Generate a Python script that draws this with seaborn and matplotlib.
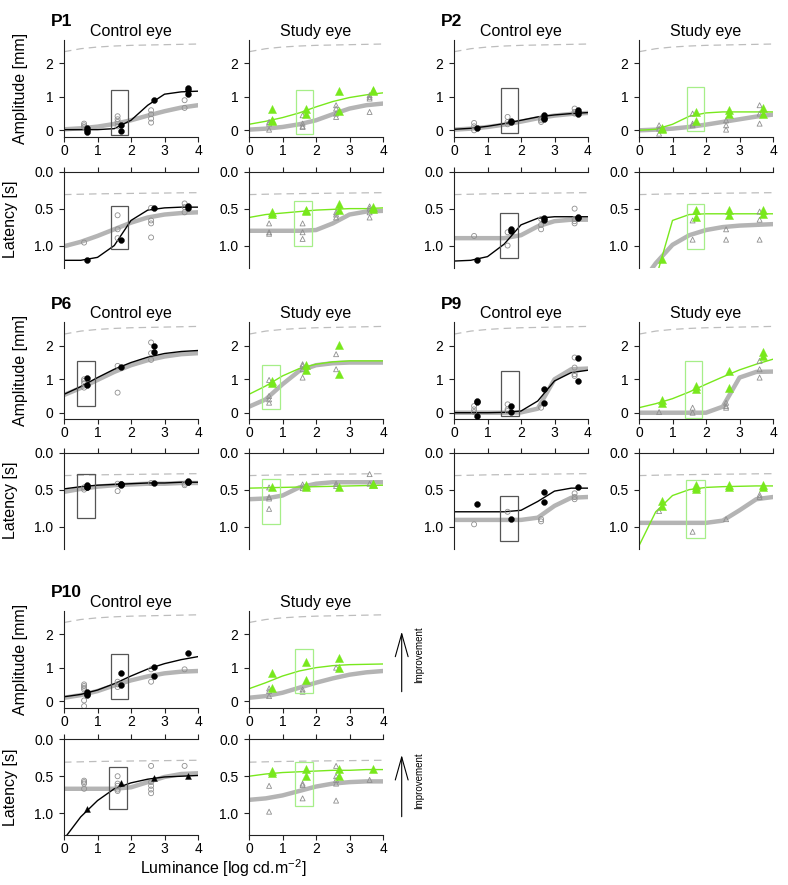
import matplotlib
matplotlib.use("Agg")
import matplotlib.pyplot as plt
from matplotlib.patches import Rectangle, FancyArrowPatch
import seaborn as sns

# luminance grid for the fitted curves, and where the dots sit
LUM_FIT = [0, 0.5, 1, 1.5, 2, 2.5, 3, 3.5, 4]
LUM_PRE = [0.6, 1.6, 2.6, 3.6]
LUM_POST = [0.7, 1.7, 2.7, 3.7]

# normal reference (dashed)
NORM_AMP = [2.35, 2.44, 2.49, 2.52, 2.54, 2.55, 2.56, 2.57, 2.58]
NORM_LAT = [0.31, 0.305, 0.30, 0.297, 0.294, 0.291, 0.289, 0.286, 0.284]

# ---- P1
p1_ctrl_amp_fit = [0.02, 0.02, 0.02, 0.05, 0.3, 0.75, 1.08, 1.15, 1.17]
p1_ctrl_amp_base = [0.03, 0.06, 0.11, 0.19, 0.3, 0.44, 0.57, 0.68, 0.75]
p1_ctrl_amp_post = [[0.07, 0.0, -0.05], [0.15, -0.03], [0.92], [1.27, 1.2, 1.1]]
p1_ctrl_amp_pre = [[0.2, 0.15, 0.1], [0.42, 0.33, 0.25, 0.12], [0.6, 0.48, 0.35, 0.23], [0.9, 0.67]]
p1_ctrl_amp_box = [1.4, 1.92, -0.15, 1.2]

p1_study_amp_fit = [0.18, 0.27, 0.38, 0.52, 0.7, 0.86, 0.98, 1.06, 1.12]
p1_study_amp_base = [0.02, 0.05, 0.1, 0.18, 0.3, 0.48, 0.65, 0.75, 0.8]
p1_study_amp_post = [[0.65, 0.3, 0.28], [0.65, 0.5], [1.17, 0.57], [1.2, 1.18]]
p1_study_amp_pre = [[0.25, 0.2, 0.02], [0.45, 0.2, 0.12, 0.1], [0.75, 0.65, 0.5, 0.4], [1.05, 1.0, 0.95, 0.55]]
p1_study_amp_box = [1.4, 1.92, -0.1, 1.22]

p1_ctrl_lat_fit = [1.2, 1.2, 1.16, 1.0, 0.66, 0.52, 0.49, 0.48, 0.48]
p1_ctrl_lat_base = [1.01, 0.95, 0.87, 0.78, 0.69, 0.62, 0.58, 0.56, 0.55]
p1_ctrl_lat_post = [[1.2], [0.92], [0.49], [0.46, 0.49]]
p1_ctrl_lat_pre = [[0.96], [0.59, 0.78, 0.9], [0.49, 0.66, 0.7, 0.89], [0.43, 0.48, 0.55]]
p1_ctrl_lat_box = [1.4, 1.9, 0.46, 1.05]

p1_study_lat_fit = [0.62, 0.58, 0.56, 0.54, 0.52, 0.51, 0.5, 0.5, 0.49]
p1_study_lat_base = [0.8, 0.8, 0.8, 0.8, 0.79, 0.7, 0.58, 0.54, 0.53]
p1_study_lat_post = [[0.55, 0.57], [0.53, 0.52], [0.44, 0.52], [0.48, 0.5]]
p1_study_lat_pre = [[0.7, 0.82, 0.84], [0.7, 0.82, 0.91], [0.55, 0.58, 0.62], [0.47, 0.5, 0.55, 0.62]]
p1_study_lat_box = [1.34, 1.89, 0.4, 1.01]

# ---- P2
p2_ctrl_amp_fit = [0.03, 0.06, 0.12, 0.2, 0.3, 0.4, 0.46, 0.5, 0.53]
p2_ctrl_amp_base = [0.02, 0.05, 0.1, 0.17, 0.26, 0.36, 0.44, 0.49, 0.52]
p2_ctrl_amp_post = [[0.07], [0.27, 0.25], [0.45, 0.38, 0.35], [0.62, 0.55, 0.5]]
p2_ctrl_amp_pre = [[0.22, 0.12, 0.0], [0.4, 0.25, 0.18], [0.35, 0.3, 0.25], [0.65, 0.55, 0.5]]
p2_ctrl_amp_box = [1.4, 1.92, -0.07, 1.25]

p2_study_amp_fit = [0.0, 0.03, 0.18, 0.42, 0.52, 0.55, 0.55, 0.55, 0.55]
p2_study_amp_base = [0.0, 0.02, 0.05, 0.1, 0.17, 0.25, 0.33, 0.41, 0.47]
p2_study_amp_post = [[0.08, 0.05], [0.55, 0.28], [0.6, 0.5], [0.68, 0.48]]
p2_study_amp_pre = [[0.15, 0.05, -0.1], [0.5, 0.2, 0.15], [0.3, 0.15, 0.02], [0.75, 0.5, 0.2]]
p2_study_amp_box = [1.42, 1.95, -0.03, 1.3]

p2_ctrl_lat_fit = [1.21, 1.2, 1.15, 0.98, 0.72, 0.63, 0.61, 0.61, 0.61]
p2_ctrl_lat_base = [0.9, 0.9, 0.9, 0.9, 0.86, 0.74, 0.67, 0.65, 0.65]
p2_ctrl_lat_post = [[1.2], [0.78, 0.8], [0.63, 0.66], [0.61, 0.63]]
p2_ctrl_lat_pre = [[0.87], [0.82, 1.0], [0.64, 0.72, 0.78], [0.5, 0.64, 0.67, 0.7]]
p2_ctrl_lat_box = [1.38, 1.92, 0.56, 1.17]

p2_study_lat_fit = [2.6, 1.45, 0.66, 0.58, 0.57, 0.57, 0.57, 0.57, 0.57]
p2_study_lat_base = [1.55, 1.24, 0.99, 0.86, 0.79, 0.75, 0.73, 0.72, 0.71]
p2_study_lat_post = [[1.18], [0.52, 0.61], [0.52, 0.58], [0.52, 0.57]]
p2_study_lat_pre = [[], [0.66, 0.92], [0.78, 0.92], [0.54, 0.65, 0.92]]
p2_study_lat_box = [1.42, 1.95, 0.44, 1.04]

# ---- P6
p6_ctrl_amp_fit = [0.55, 0.78, 1.05, 1.3, 1.5, 1.66, 1.77, 1.83, 1.86]
p6_ctrl_amp_base = [0.53, 0.74, 0.98, 1.22, 1.42, 1.57, 1.68, 1.75, 1.78]
p6_ctrl_amp_post = [[1.05, 0.82], [1.38], [1.98, 1.83], []]
p6_ctrl_amp_pre = [[1.0, 0.95, 0.88, 0.75], [1.4, 0.6], [2.1, 1.78, 1.58], []]
p6_ctrl_amp_box = [0.38, 0.92, 0.2, 1.54]

p6_study_amp_fit = [0.55, 0.8, 1.1, 1.32, 1.45, 1.52, 1.55, 1.55, 1.55]
p6_study_amp_base = [0.18, 0.4, 0.85, 1.25, 1.42, 1.48, 1.5, 1.5, 1.5]
p6_study_amp_post = [[0.95, 0.88], [1.42, 1.28], [2.02, 1.15], []]
p6_study_amp_pre = [[0.98, 0.5, 0.4, 0.3], [1.45, 1.4, 1.3, 1.05], [1.75, 1.3], []]
p6_study_amp_box = [0.4, 0.92, 0.1, 1.44]

p6_ctrl_lat_fit = [0.49, 0.46, 0.44, 0.43, 0.42, 0.41, 0.41, 0.4, 0.4]
p6_ctrl_lat_base = [0.53, 0.49, 0.46, 0.44, 0.43, 0.42, 0.42, 0.41, 0.41]
p6_ctrl_lat_post = [[0.44, 0.46, 0.47], [0.42, 0.43, 0.44], [0.41], [0.38, 0.39, 0.4]]
p6_ctrl_lat_pre = [[0.47, 0.5], [0.42, 0.52], [0.41], [0.42, 0.44]]
p6_ctrl_lat_box = [0.38, 0.92, 0.29, 0.89]

p6_study_lat_fit = [0.48, 0.475, 0.47, 0.465, 0.46, 0.455, 0.45, 0.445, 0.44]
p6_study_lat_base = [0.63, 0.62, 0.58, 0.47, 0.42, 0.4, 0.4, 0.4, 0.4]
p6_study_lat_post = [[0.47], [0.44, 0.46], [0.46], [0.42, 0.43]]
p6_study_lat_pre = [[0.47, 0.6, 0.62, 0.76], [0.43, 0.48], [0.42, 0.45], [0.29, 0.42]]
p6_study_lat_box = [0.4, 0.93, 0.36, 0.96]

# ---- P9
p9_ctrl_amp_fit = [0.0, 0.0, 0.0, 0.01, 0.05, 0.35, 0.95, 1.2, 1.27]
p9_ctrl_amp_base = [0.0, 0.0, 0.0, 0.0, 0.01, 0.12, 1.0, 1.3, 1.32]
p9_ctrl_amp_post = [[0.35, 0.32, -0.1], [0.2, 0.01], [0.72, 0.28], [1.65, 0.95]]
p9_ctrl_amp_pre = [[0.2, 0.1, 0.02], [0.25, 0.1, 0.05], [0.15], [1.65, 1.35, 1.15, 1.1]]
p9_ctrl_amp_box = [1.4, 1.93, -0.11, 1.24]

p9_study_amp_fit = [0.15, 0.27, 0.42, 0.62, 0.85, 1.07, 1.28, 1.45, 1.6]
p9_study_amp_base = [0.0, 0.0, 0.0, 0.0, 0.0, 0.18, 1.05, 1.22, 1.23]
p9_study_amp_post = [[0.38, 0.3], [0.8, 0.72], [1.25, 0.75], [1.83, 1.7]]
p9_study_amp_pre = [[0.02], [0.15, 0.0], [0.3, 0.2, 0.15], [1.55, 1.3, 1.05]]
p9_study_amp_box = [1.37, 1.89, -0.15, 1.54]

p9_ctrl_lat_fit = [0.8, 0.8, 0.8, 0.8, 0.78, 0.66, 0.52, 0.48, 0.48]
p9_ctrl_lat_base = [0.91, 0.91, 0.91, 0.91, 0.91, 0.88, 0.72, 0.61, 0.6]
p9_ctrl_lat_post = [[0.7], [0.9], [0.53, 0.67], [0.47]]
p9_ctrl_lat_pre = [[0.97], [0.8], [0.9, 0.93], [0.55, 0.6, 0.63]]
p9_ctrl_lat_box = [1.38, 1.92, 0.59, 1.19]

p9_study_lat_fit = [1.26, 0.8, 0.58, 0.5, 0.47, 0.46, 0.455, 0.45, 0.45]
p9_study_lat_base = [0.95, 0.95, 0.95, 0.95, 0.95, 0.92, 0.78, 0.63, 0.6]
p9_study_lat_post = [[0.66, 0.72], [0.44, 0.47, 0.49], [0.44, 0.46], [0.44, 0.46]]
p9_study_lat_pre = [[0.79], [1.07], [0.9], [0.57, 0.6]]
p9_study_lat_box = [1.4, 1.96, 0.37, 1.15]

# ---- P10
p10_ctrl_amp_fit = [0.13, 0.2, 0.33, 0.52, 0.75, 0.96, 1.12, 1.24, 1.33]
p10_ctrl_amp_base = [0.1, 0.18, 0.3, 0.47, 0.62, 0.74, 0.83, 0.88, 0.9]
p10_ctrl_amp_post = [[0.28, 0.22, 0.18], [0.85, 0.47], [1.03, 0.75], [1.45]]
p10_ctrl_amp_pre = [[0.5, 0.45, 0.4, 0.35, 0.02, -0.15], [0.58, 0.5, 0.42], [0.95, 0.58], [0.95]]
p10_ctrl_amp_box = [1.4, 1.92, 0.07, 1.42]

p10_study_amp_fit = [0.37, 0.55, 0.75, 0.9, 1.0, 1.06, 1.09, 1.1, 1.11]
p10_study_amp_base = [0.1, 0.15, 0.25, 0.4, 0.55, 0.68, 0.79, 0.86, 0.9]
p10_study_amp_post = [[0.83, 0.4], [1.16, 0.63], [1.3, 0.98], []]
p10_study_amp_pre = [[0.38, 0.3, 0.15], [0.35, 0.28], [1.0], []]
p10_study_amp_box = [1.36, 1.9, 0.24, 1.57]

p10_ctrl_lat_fit = [1.35, 1.05, 0.83, 0.67, 0.59, 0.54, 0.51, 0.5, 0.49]
p10_ctrl_lat_base = [0.67, 0.67, 0.67, 0.67, 0.65, 0.58, 0.51, 0.47, 0.46]
p10_ctrl_lat_post = [[0.94], [0.59], [0.53], [0.5]]
p10_ctrl_lat_pre = [[0.56, 0.58, 0.6, 0.67], [0.5, 0.6, 0.63, 0.68, 0.7], [0.36, 0.58, 0.63, 0.68, 0.73], [0.36]]
p10_ctrl_lat_box = [1.34, 1.88, 0.37, 0.95]

p10_study_lat_fit = [0.5, 0.47, 0.45, 0.44, 0.43, 0.42, 0.42, 0.41, 0.41]
p10_study_lat_base = [0.82, 0.8, 0.76, 0.7, 0.64, 0.6, 0.58, 0.57, 0.57]
p10_study_lat_post = [[0.43, 0.45], [0.4, 0.5], [0.4, 0.5], [0.4]]
p10_study_lat_pre = [[0.63, 0.98], [0.6, 0.62, 0.8], [0.36, 0.5, 0.55, 0.6, 0.83], [0.55]]
p10_study_lat_box = [1.36, 1.9, 0.31, 0.91]


sns.set_style("ticks")
plt.rcParams["font.family"] = ["Liberation Sans", "DejaVu Sans"]
plt.rcParams["mathtext.default"] = "regular"
plt.rcParams["axes.linewidth"] = 0.8
plt.rcParams["text.color"] = "black"
plt.rcParams["axes.labelcolor"] = "black"

GREEN = "#78e81c"
GREEN_BOX = "#a6ee88"
GREY_FIT = "#b4b4b4"
GREY_DOT = "#8f8f8f"
GREY_NORM = "#bdbdbd"

W, H = 788, 885
fig = plt.figure(figsize=(7.88, 8.85), dpi=100)

COL_X = [64, 249, 454, 639]
AMP_TOP = [40, 322.4, 610.8]
LAT_TOP = [171.7, 452.7, 739.3]


def add_ax(x, top, h):
    return fig.add_axes([x / W, 1 - (top + h) / H, 134 / W, h / H])


def dots(ax, lum, groups, **kw):
    xs = [l for l, g in zip(lum, groups) for _ in g]
    ys = [v for g in groups for v in g]
    if ys:
        sns.scatterplot(x=xs, y=ys, ax=ax, legend=False, zorder=4, **kw)


def panel(ax, fit, base, post, pre, box, study, lat, post_marker="o"):
    norm = NORM_LAT if lat else NORM_AMP
    sns.lineplot(x=LUM_FIT, y=norm, ax=ax, color=GREY_NORM, lw=0.9,
                 linestyle=(0, (6, 4)))
    sns.lineplot(x=LUM_FIT, y=base, ax=ax, color=GREY_FIT, lw=3.2,
                 solid_joinstyle="round", solid_capstyle="round")
    pre_marker = "^" if study else "o"
    dots(ax, LUM_PRE, pre, marker=pre_marker, s=13, color=GREY_DOT,
         facecolors="none", edgecolor=GREY_DOT, linewidth=0.6)
    col = GREEN if study else "black"
    sns.lineplot(x=LUM_FIT, y=fit, ax=ax, color=col, lw=1.0,
                 solid_joinstyle="round")
    if study:
        dots(ax, LUM_POST, post, marker="^", s=34, color=GREEN,
             edgecolor=GREEN, linewidth=0.3)
    else:
        dots(ax, LUM_POST, post, marker=post_marker, s=18, color="black",
             edgecolor="black", linewidth=0.3)
    x0, x1, y0, y1 = box
    ax.add_patch(Rectangle((x0, y0), x1 - x0, y1 - y0, fill=False,
                           edgecolor=GREEN_BOX if study else "#555555",
                           lw=0.9, zorder=5))

    ax.set_xlim(0, 4)
    ax.set_xticks([0, 1, 2, 3, 4])
    ax.set_xlabel("")
    ax.set_ylabel("")
    for s in ["left", "right", "top", "bottom"]:
        ax.spines[s].set_color("#222222")
    ax.spines["right"].set_visible(False)
    ax.tick_params(axis="both", direction="out", length=3.6, width=0.8,
                   colors="#222222", labelcolor="black", labelsize=10)
    ax.tick_params(axis="y", pad=4)
    ax.tick_params(axis="x", pad=1.5)
    if lat:
        ax.set_ylim(1.3, 0.0)
        ax.set_yticks([0.0, 0.5, 1.0])
        ax.set_yticklabels(["0.0", "0.5", "1.0"])
        ax.spines["bottom"].set_visible(False)
        ax.tick_params(axis="x", top=True, bottom=False, labeltop=False,
                       labelbottom=False)
    else:
        ax.set_ylim(-0.2, 2.7)
        ax.set_yticks([0, 1, 2])
        ax.spines["top"].set_visible(False)


patients = [
    ("P1", 0, 0, "o",
     [p1_ctrl_amp_fit, p1_ctrl_amp_base, p1_ctrl_amp_post, p1_ctrl_amp_pre, p1_ctrl_amp_box],
     [p1_study_amp_fit, p1_study_amp_base, p1_study_amp_post, p1_study_amp_pre, p1_study_amp_box],
     [p1_ctrl_lat_fit, p1_ctrl_lat_base, p1_ctrl_lat_post, p1_ctrl_lat_pre, p1_ctrl_lat_box],
     [p1_study_lat_fit, p1_study_lat_base, p1_study_lat_post, p1_study_lat_pre, p1_study_lat_box]),
    ("P2", 0, 1, "o",
     [p2_ctrl_amp_fit, p2_ctrl_amp_base, p2_ctrl_amp_post, p2_ctrl_amp_pre, p2_ctrl_amp_box],
     [p2_study_amp_fit, p2_study_amp_base, p2_study_amp_post, p2_study_amp_pre, p2_study_amp_box],
     [p2_ctrl_lat_fit, p2_ctrl_lat_base, p2_ctrl_lat_post, p2_ctrl_lat_pre, p2_ctrl_lat_box],
     [p2_study_lat_fit, p2_study_lat_base, p2_study_lat_post, p2_study_lat_pre, p2_study_lat_box]),
    ("P6", 1, 0, "o",
     [p6_ctrl_amp_fit, p6_ctrl_amp_base, p6_ctrl_amp_post, p6_ctrl_amp_pre, p6_ctrl_amp_box],
     [p6_study_amp_fit, p6_study_amp_base, p6_study_amp_post, p6_study_amp_pre, p6_study_amp_box],
     [p6_ctrl_lat_fit, p6_ctrl_lat_base, p6_ctrl_lat_post, p6_ctrl_lat_pre, p6_ctrl_lat_box],
     [p6_study_lat_fit, p6_study_lat_base, p6_study_lat_post, p6_study_lat_pre, p6_study_lat_box]),
    ("P9", 1, 1, "o",
     [p9_ctrl_amp_fit, p9_ctrl_amp_base, p9_ctrl_amp_post, p9_ctrl_amp_pre, p9_ctrl_amp_box],
     [p9_study_amp_fit, p9_study_amp_base, p9_study_amp_post, p9_study_amp_pre, p9_study_amp_box],
     [p9_ctrl_lat_fit, p9_ctrl_lat_base, p9_ctrl_lat_post, p9_ctrl_lat_pre, p9_ctrl_lat_box],
     [p9_study_lat_fit, p9_study_lat_base, p9_study_lat_post, p9_study_lat_pre, p9_study_lat_box]),
    ("P10", 2, 0, "^",
     [p10_ctrl_amp_fit, p10_ctrl_amp_base, p10_ctrl_amp_post, p10_ctrl_amp_pre, p10_ctrl_amp_box],
     [p10_study_amp_fit, p10_study_amp_base, p10_study_amp_post, p10_study_amp_pre, p10_study_amp_box],
     [p10_ctrl_lat_fit, p10_ctrl_lat_base, p10_ctrl_lat_post, p10_ctrl_lat_pre, p10_ctrl_lat_box],
     [p10_study_lat_fit, p10_study_lat_base, p10_study_lat_post, p10_study_lat_pre, p10_study_lat_box]),
]

for name, row, grp, lat_marker, c_amp, s_amp, c_lat, s_lat in patients:
    xc, xs = COL_X[2 * grp], COL_X[2 * grp + 1]
    a1 = add_ax(xc, AMP_TOP[row], 97)
    a2 = add_ax(xs, AMP_TOP[row], 97)
    l1 = add_ax(xc, LAT_TOP[row], 96)
    l2 = add_ax(xs, LAT_TOP[row], 96)
    panel(a1, *c_amp, study=False, lat=False)
    panel(a2, *s_amp, study=True, lat=False)
    panel(l1, *c_lat, study=False, lat=True, post_marker=lat_marker)
    panel(l2, *s_lat, study=True, lat=True)
    a1.set_title("Control eye", fontsize=11.5, pad=3)
    a2.set_title("Study eye", fontsize=11.5, pad=3)
    fig.text((xc - 13) / W, 1 - (AMP_TOP[row] - 18) / H, name,
             fontsize=12.5, fontweight="bold", ha="left", va="center")
    if grp == 0:
        a1.set_ylabel("Amplitude [mm]", fontsize=11.5)
        a1.yaxis.set_label_coords(-0.27, 0.5)
        l1.set_ylabel("Latency [s]", fontsize=11.5)
        l1.yaxis.set_label_coords(-0.345, 0.5)
    if row == 2:
        for ax in (l1, l2):
            ax.spines["bottom"].set_visible(True)
            ax.tick_params(axis="x", bottom=True, labelbottom=True)

fig.text(223 / W, 1 - 868 / H, r"Luminance [log cd.m$^{-2}$]",
         fontsize=11.5, ha="center", va="center")

# improvement arrows (open V head like R's arrows())
for y_low, y_high, y_txt in [(691.7, 631.7, 655), (816.7, 755, 781)]:
    fig.add_artist(FancyArrowPatch((401.7 / W, 1 - y_low / H),
                                   (401.7 / W, 1 - y_high / H),
                                   transform=fig.transFigure,
                                   arrowstyle="->,head_length=1.5,head_width=0.42",
                                   mutation_scale=11, lw=0.8, color="black",
                                   shrinkA=0, shrinkB=0))
    fig.text(419 / W, 1 - y_txt / H, "Improvement", rotation=90,
             fontsize=7, ha="center", va="center")

fig.savefig("out.png", dpi=100)
